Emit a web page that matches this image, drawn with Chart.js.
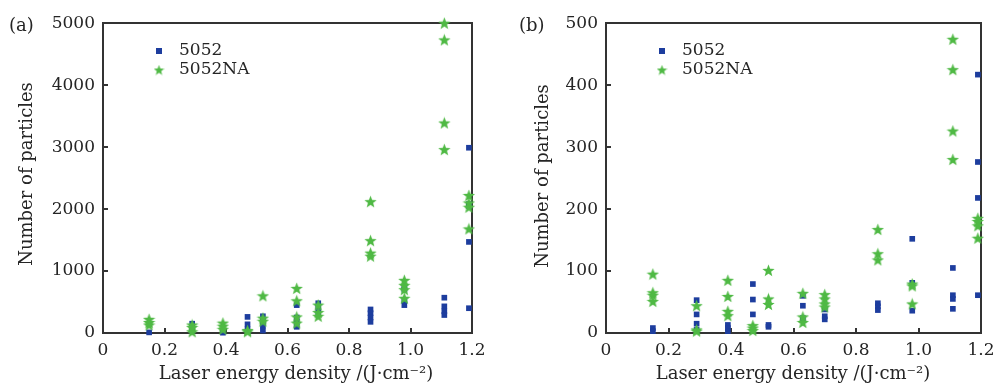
<!DOCTYPE html>
<html>
<head>
<meta charset="utf-8">
<script src="https://cdn.jsdelivr.net/npm/chart.js@4/dist/chart.umd.min.js"></script>
<style>
  html, body { margin:0; padding:0; background:#fff; }
  #wrap { position:relative; width:995px; height:387px; overflow:hidden; }
  .panel { position:absolute; top:0; height:387px; }
</style>
</head>
<body>
<div id="wrap">
  <div class="panel" style="left:0;width:497px;"><canvas id="chartA"></canvas></div>
  <div class="panel" style="left:497px;width:498px;"><canvas id="chartB"></canvas></div>
</div>
<script>
// laser energy density levels (J/cm2) shared by both panels
var energyLevels = [0.15, 0.29, 0.39, 0.47, 0.52, 0.63, 0.70, 0.87, 0.98, 1.11, 1.19];
var xTicks = [0, 0.2, 0.4, 0.6, 0.8, 1.0, 1.2];

// (a) particle counts, one list per energy level
var countA_5052 = [
  [10], [150, 90, 40], [5], [260, 140, 60], [270, 200, 120, 40],
  [450, 250, 180, 100], [480, 420, 330], [380, 320, 250, 180],
  [750, 700, 520, 450], [570, 430, 350, 290], [2990, 2080, 2050, 1470, 400]
];
var countA_5052NA = [
  [220, 170, 130], [130, 90, 20], [160, 110, 60], [40, 20], [600, 240, 190],
  [720, 520, 260, 160], [450, 330, 270], [2120, 1490, 1290, 1240],
  [850, 770, 700, 560], [5000, 4730, 3390, 2960], [2220, 2100, 2030, 1680]
];
var yTicksA = [0, 1000, 2000, 3000, 4000, 5000];

// (b) particle counts
var countB_5052 = [
  [8, 3], [53, 30, 15, 5], [13, 8, 3], [79, 54, 30], [13, 10],
  [60, 44, 24], [38, 27, 22], [48, 43, 37], [152, 81, 36],
  [105, 61, 55, 39], [417, 276, 218, 61]
];
var countB_5052NA = [
  [95, 65, 61, 51], [44, 5, 3], [85, 59, 35, 28], [12, 8, 4], [101, 55, 46],
  [64, 26, 17], [62, 55, 47, 42], [167, 128, 118], [79, 76, 47],
  [474, 425, 326, 280], [185, 180, 173, 153]
];
var yTicksB = [0, 100, 200, 300, 400, 500];

var seriesNames = ["5052", "5052NA"];

var BLUE = "#1d3d9e", GREEN = "#4fb944", AXIS = "#333333", TEXT = "#252525";
var FONT = "DejaVu Serif";

// per-canvas placement of the hand drawn pieces
var panels = {
  chartA: { yTicks: yTicksA, right: 25, top: 21, yWidth: 103, tag: "(a)", tagX: 9,
            xTitleX: 296, yTitleX: 27, yTitleY: 174, legX: 159 },
  chartB: { yTicks: yTicksB, right: 14, top: 22, yWidth: 109, tag: "(b)", tagX: 22,
            xTitleX: 296, yTitleX: 46, yTitleY: 176, legX: 165 }
};

function toPoints(levels, counts){
  var pts = [];
  counts.forEach(function(list, i){
    list.forEach(function(v){ pts.push({ x: levels[i], y: v }); });
  });
  return pts;
}

function starImage(size, color){
  var c = document.createElement("canvas");
  c.width = size; c.height = size;
  var g = c.getContext("2d");
  var cx = size/2, cy = size/2 + size*0.04, ro = size/2, ri = ro*0.42;
  g.beginPath();
  for(var k = 0; k < 10; k++){
    var r = k % 2 ? ri : ro;
    var a = -Math.PI/2 + k*Math.PI/5;
    g.lineTo(cx + r*Math.cos(a), cy + r*Math.sin(a));
  }
  g.closePath();
  g.fillStyle = color;
  g.fill();
  return c;
}

var starBig = starImage(13, GREEN);
var starSmall = starImage(11, GREEN);

// titles, tag and legend
var decor = {
  id: "decor",
  afterDraw: function(chart){
    var o = panels[chart.canvas.id];
    var ctx = chart.ctx;
    ctx.save();
    ctx.fillStyle = TEXT;
    ctx.textBaseline = "middle";
    ctx.textAlign = "left";
    ctx.font = "18px '" + FONT + "'";
    ctx.fillText(o.tag, o.tagX, 26);
    ctx.textAlign = "center";
    ctx.fillText("Laser energy density /(J\u00b7cm\u207b\u00b2)", o.xTitleX, 374);
    ctx.translate(o.yTitleX, o.yTitleY);
    ctx.rotate(-Math.PI/2);
    ctx.fillText("Number of particles", 0, 0);
    ctx.restore();
    // legend
    ctx.save();
    ctx.fillStyle = BLUE;
    ctx.fillRect(o.legX - 3, 48, 6, 6);
    ctx.drawImage(starSmall, o.legX - 5.5, 64.5);
    ctx.fillStyle = TEXT;
    ctx.font = "17px '" + FONT + "'";
    ctx.textAlign = "left";
    ctx.textBaseline = "middle";
    ctx.fillText(seriesNames[0], o.legX + 20, 51);
    ctx.fillText(seriesNames[1], o.legX + 20, 70);
    ctx.restore();
  }
};

// short inward tick marks on the bottom and left axes
var tickGrid = { display: true, drawOnChartArea: false, drawTicks: true, tickLength: -5,
                 color: AXIS, lineWidth: 2 };
// plain edge for the top and right sides of the box
var edgeGrid = { display: true, drawOnChartArea: false, drawTicks: false, color: AXIS, lineWidth: 2 };
var axisBorder = { display: true, color: AXIS, width: 2 };

function makeChart(id, c5052, c5052NA, yMax){
  var lay = panels[id];
  return new Chart(document.getElementById(id), {
    type: "scatter",
    data: {
      datasets: [
        { label: seriesNames[1], data: toPoints(energyLevels, c5052NA), pointStyle: starBig,
          order: 0, clip: false },
        { label: seriesNames[0], data: toPoints(energyLevels, c5052), pointStyle: "rect",
          pointRadius: 4, backgroundColor: BLUE, borderColor: BLUE, borderWidth: 0,
          order: 1, clip: false }
      ]
    },
    options: {
      responsive: false,
      animation: false,
      devicePixelRatio: 1,
      layout: { padding: { left: 0, right: lay.right, top: lay.top, bottom: 0 } },
      plugins: { legend: { display: false }, tooltip: { enabled: false } },
      scales: {
        x: {
          type: "linear", position: "bottom", min: 0, max: 1.2,
          afterBuildTicks: function(s){ s.ticks = xTicks.map(function(v){ return { value: v }; }); },
          // the last label may hang past the box, so keep no extra side room for it
          afterFit: function(s){ s.height = 54; s.paddingLeft = 0; s.paddingRight = 0; },
          grid: tickGrid,
          border: axisBorder,
          ticks: {
            padding: 12, color: TEXT, font: { family: FONT, size: 17 }, maxRotation: 0,
            callback: function(v){ return v === 0 ? "0" : Number(v).toFixed(1); }
          }
        },
        y: {
          type: "linear", position: "left", min: 0, max: yMax,
          afterBuildTicks: function(s){ s.ticks = lay.yTicks.map(function(v){ return { value: v }; }); },
          afterFit: function(s){ s.width = lay.yWidth; },
          grid: tickGrid,
          border: axisBorder,
          ticks: { padding: 13, color: TEXT, font: { family: FONT, size: 17 },
                   callback: function(v){ return String(v); } }
        },
        xTop: {
          type: "linear", position: "top", min: 0, max: 1.2, display: true,
          afterFit: function(s){ s.height = 0; s.paddingLeft = 0; s.paddingRight = 0; },
          grid: edgeGrid, border: axisBorder, ticks: { display: false }
        },
        yRight: {
          type: "linear", position: "right", min: 0, max: yMax, display: true,
          afterFit: function(s){ s.width = 0; s.paddingTop = 0; s.paddingBottom = 0; },
          grid: edgeGrid, border: axisBorder, ticks: { display: false }
        }
      }
    },
    plugins: [decor]
  });
}

function sizeCanvas(id, w){
  var c = document.getElementById(id);
  c.width = w; c.height = 387;
  c.style.width = w + "px"; c.style.height = "387px";
}
sizeCanvas("chartA", 497);
sizeCanvas("chartB", 498);

makeChart("chartA", countA_5052, countA_5052NA, 5000);
makeChart("chartB", countB_5052, countB_5052NA, 500);
</script>
</body>
</html>
